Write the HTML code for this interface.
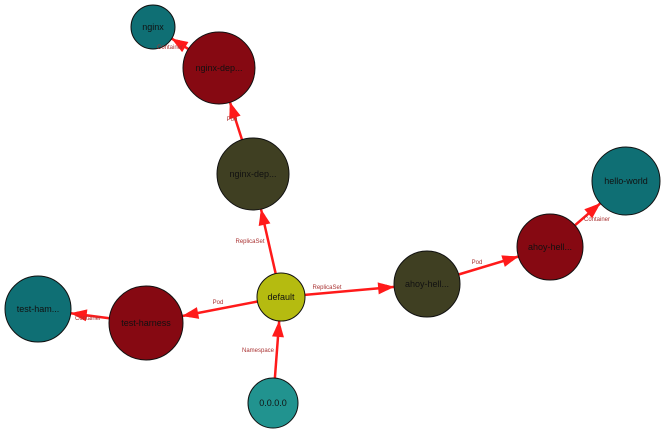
<!DOCTYPE html>
<html><head><meta charset="utf-8"><style>
html,body{margin:0;padding:0;background:#fff;}
svg{display:block;}
text{font-family:"Liberation Sans",sans-serif;}
</style></head><body>
<svg id="s" width="665" height="432" viewBox="0 0 665 432" xmlns="http://www.w3.org/2000/svg">
<defs><marker id="a" markerWidth="8" markerHeight="6" refX="8" refY="3" orient="auto" markerUnits="userSpaceOnUse" viewBox="0 0 8 6"><path d="M0,0 L8,3 L0,6 z" fill="#ff1a1a"/></marker></defs>
<g id="e"></g><g id="n"></g><g id="l"></g>
</svg>
<script>
var N={
nginx:[153,27,22,'#0f6f74','nginx'],
nd:[219,68,36,'#860912','nginx-dep...'],
no:[253,174,36,'#3f3f22','nginx-dep...'],
def:[281,297,24,'#b5bb10','default'],
th:[146,323,37,'#860912','test-harness'],
tt:[38,309,33,'#0f6f74','test-ham...'],
z:[273,403,25,'#21938f','0.0.0.0'],
ao:[427,284,33,'#3f3f22','ahoy-hell...'],
ar:[550,247,33,'#860912','ahoy-hell...'],
hw:[626,181,34,'#0f6f74','hello-world']};
var E=[['def','no'],['no','nd'],['nd','nginx'],['def','th'],['th','tt'],['z','def'],['def','ao'],['ao','ar'],['ar','hw']];
var L=[[250,243,'ReplicaSet'],[232,121,'Pod'],[170,49,'Container'],[218,304,'Pod'],[88,320,'Container'],[258,352,'Namespace'],[327,289,'ReplicaSet'],[477,264,'Pod'],[597,221,'Container']];
var ns='http://www.w3.org/2000/svg';
function el(t,a,p,txt){var e=document.createElementNS(ns,t);for(var k in a)e.setAttribute(k,a[k]);if(txt)e.textContent=txt;document.getElementById(p).appendChild(e);}
E.forEach(function(x){var a=N[x[0]],b=N[x[1]];var dx=b[0]-a[0],dy=b[1]-a[1],d=Math.hypot(dx,dy),ux=dx/d,uy=dy/d;
el('line',{x1:a[0]+ux*a[2],y1:a[1]+uy*a[2],x2:b[0]-ux*b[2],y2:b[1]-uy*b[2],stroke:'#ff1a1a','stroke-width':2.5,'marker-end':'url(#a)'},'e');
var tx=b[0]-ux*b[2],ty=b[1]-uy*b[2];
el('polygon',{points:[tx,ty,tx-ux*16-uy*6,ty-uy*16+ux*6,tx-ux*16+uy*6,ty-uy*16-ux*6].join(','),fill:'#ff1a1a'},'e');});
for(var k in N){var v=N[k];el('circle',{cx:v[0],cy:v[1],r:v[2],fill:v[3],stroke:'#111','stroke-width':1},'n');
el('text',{x:v[0],y:v[1]+3,'text-anchor':'middle','font-size':9,fill:'#111'},'n',v[4]);}
L.forEach(function(t){el('text',{x:t[0],y:t[1],'text-anchor':'middle','font-size':6,fill:'#a33'},'l',t[2]);});
</script>
</body></html>
